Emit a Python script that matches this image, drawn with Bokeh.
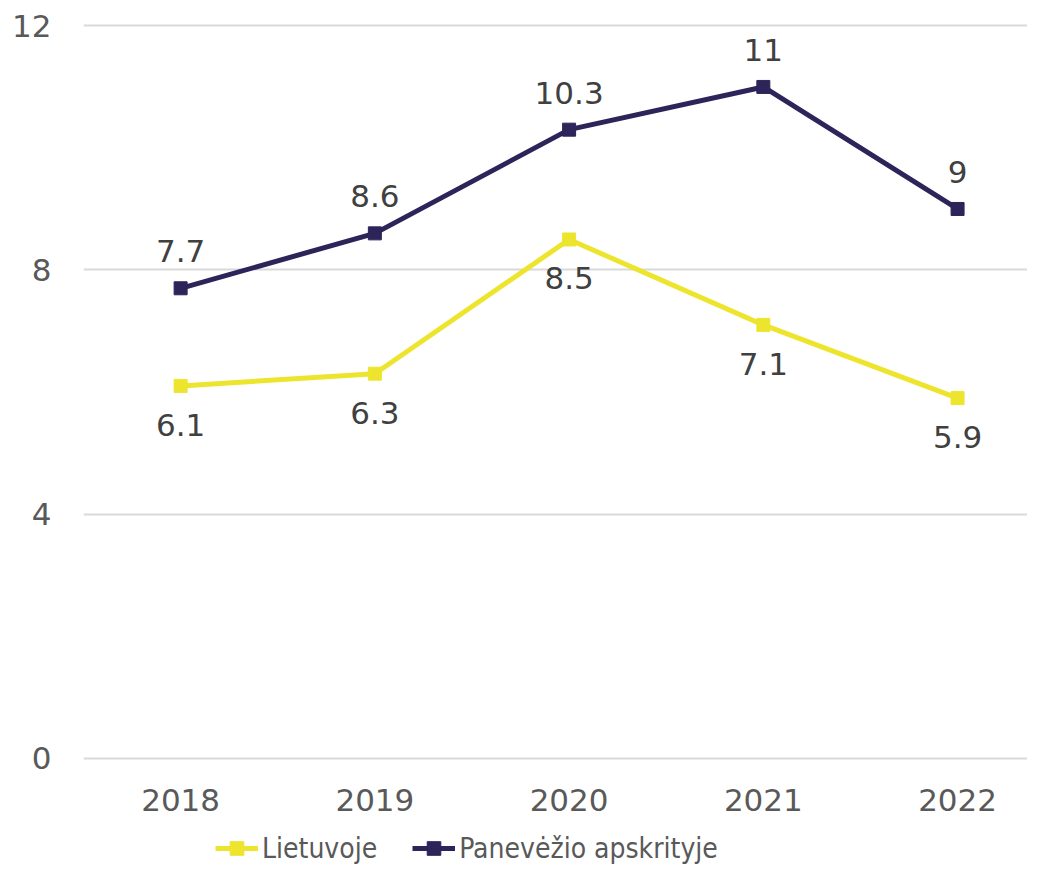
from bokeh.plotting import figure
from bokeh.layouts import column
from bokeh.models import ColumnDataSource, LabelSet, Legend, LegendItem, Range1d, FixedTicker
from bokeh.core.properties import value
from bokeh.embed import file_html
from bokeh.resources import INLINE

years = ["2018", "2019", "2020", "2021", "2022"]
lietuvoje = [6.1, 6.3, 8.5, 7.1, 5.9]
panevezio = [7.7, 8.6, 10.3, 11, 9]
series_names = ["Lietuvoje", "Panevėžio apskrityje"]
y_ticks = [0, 4, 8, 12]

YELLOW = "#EDE52D"
NAVY = "#2D2459"
AXIS_TXT = "#595959"
LBL_TXT = "#404040"
FONT = "DejaVu Sans"
FS = "31px"
LEG_FONT = "DejaVu Sans Condensed"
LEG_FS = "28px"

xs = list(range(len(years)))
src_l = ColumnDataSource(dict(x=xs, y=lietuvoje, t=[f"{v:g}" for v in lietuvoje]))
src_p = ColumnDataSource(dict(x=xs, y=panevezio, t=[f"{v:g}" for v in panevezio]))

p = figure(width=1027, height=820, output_backend="svg", toolbar_location=None,
           x_range=Range1d(-0.5, 4.36), y_range=Range1d(-0.04, 12.04),
           min_border_left=83, min_border_right=0, min_border_top=23, min_border_bottom=60)
p.outline_line_color = None
p.background_fill_color = "white"

# axes
p.xaxis.ticker = FixedTicker(ticks=xs)
p.xaxis.major_label_overrides = {i: y for i, y in enumerate(years)}
p.yaxis.ticker = FixedTicker(ticks=y_ticks)
for ax in (p.xaxis[0], p.yaxis[0]):
    ax.axis_line_color = None
    ax.major_tick_line_color = None
    ax.minor_tick_line_color = None
    ax.major_label_text_font = FONT
    ax.major_label_text_font_size = FS
    ax.major_label_text_color = AXIS_TXT
p.yaxis.major_label_standoff = 26
p.xaxis.major_label_standoff = 22

p.xgrid.grid_line_color = None
p.ygrid.grid_line_color = "#D9D9D9"
p.ygrid.grid_line_width = 2

p.line("x", "y", source=src_l, line_color=YELLOW, line_width=5)
p.scatter("x", "y", source=src_l, marker="square", size=13, fill_color=YELLOW, line_color=YELLOW)
p.line("x", "y", source=src_p, line_color=NAVY, line_width=5)
p.scatter("x", "y", source=src_p, marker="square", size=13, fill_color=NAVY, line_color=NAVY)

lab_l = LabelSet(x="x", y="y", text="t", source=src_l, y_offset=-39, text_align="center",
                 text_baseline="middle", text_font=value(FONT), text_font_size=value(FS),
                 text_color=LBL_TXT)
lab_p = LabelSet(x="x", y="y", text="t", source=src_p, y_offset=37, text_align="center",
                 text_baseline="middle", text_font=value(FONT), text_font_size=value(FS),
                 text_color=LBL_TXT)
p.add_layout(lab_l)
p.add_layout(lab_p)

# legend strip below the chart (series glyphs kept out of its visible range)
lg = figure(width=1027, height=45, output_backend="svg", toolbar_location=None,
            x_range=Range1d(100, 101), y_range=Range1d(100, 101),
            min_border_left=0, min_border_right=0, min_border_top=0, min_border_bottom=0)
lg.axis.visible = False
lg.grid.visible = False
lg.outline_line_color = None
g_l1 = lg.line("x", "y", source=src_l, line_color=YELLOW, line_width=5)
g_l2 = lg.scatter("x", "y", source=src_l, marker="square", size=13, fill_color=YELLOW, line_color=YELLOW)
g_p1 = lg.line("x", "y", source=src_p, line_color=NAVY, line_width=5)
g_p2 = lg.scatter("x", "y", source=src_p, marker="square", size=13, fill_color=NAVY, line_color=NAVY)

legend = Legend(items=[LegendItem(label=series_names[0], renderers=[g_l1, g_l2]),
                       LegendItem(label=series_names[1], renderers=[g_p1, g_p2])],
                orientation="horizontal", location=(132, 0),
                label_text_font=LEG_FONT, label_text_font_size=LEG_FS, label_text_color=AXIS_TXT,
                glyph_width=43, glyph_height=34, label_height=34, label_standoff=4, spacing=35,
                padding=0, margin=0, border_line_color=None, background_fill_alpha=0)
lg.add_layout(legend, "center")

layout = column(p, lg, spacing=0)
open("out.html", "w").write(file_html(layout, INLINE))
